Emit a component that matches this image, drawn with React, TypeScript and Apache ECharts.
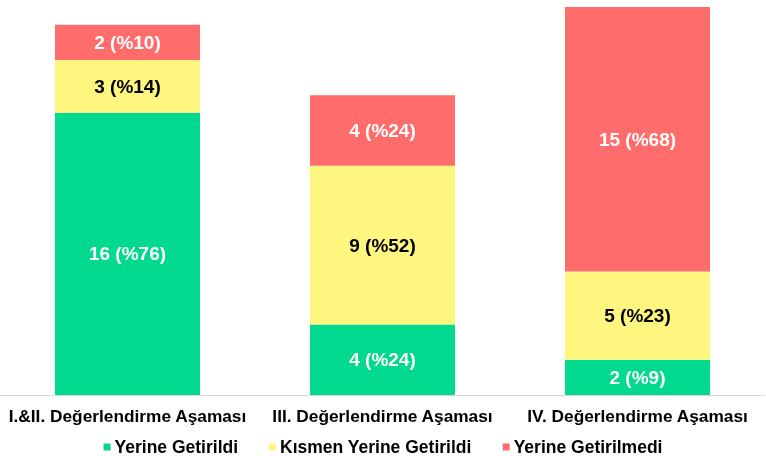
import React, { useEffect, useRef } from "react";
import * as echarts from "echarts";

const categories = ["I.&II. Değerlendirme Aşaması", "III. Değerlendirme Aşaması", "IV. Değerlendirme Aşaması"];
const seriesNames = ["Yerine Getirildi", "Kısmen Yerine Getirildi", "Yerine Getirilmedi"];
const fulfilled = [16, 4, 2];
const partial = [3, 9, 5];
const notFulfilled = [2, 4, 15];
const fulfilledPct = [76, 24, 9];
const partialPct = [14, 52, 23];
const notFulfilledPct = [10, 24, 68];
const colors = ["#00D98E", "#FFF680", "#FF6C6C"];
const labelColors = ["#FFFFFF", "#000000", "#FFFFFF"];

export default function App() {
  const ref = useRef<HTMLDivElement>(null);
  useEffect(() => {
    if (!ref.current) return;
    const chart = echarts.init(ref.current, null, { renderer: "svg" });
    const values = [fulfilled, partial, notFulfilled];
    const pcts = [fulfilledPct, partialPct, notFulfilledPct];
    chart.setOption({
      animation: false,
      textStyle: { fontFamily: "Liberation Sans, Arial, sans-serif" },
      grid: { left: 0, right: 1, top: 7, bottom: 61 },
      legend: {
        bottom: -5,
        left: "center",
        itemWidth: 7,
        itemHeight: 7,
        itemGap: 31,
        icon: "rect",
        textStyle: { fontSize: 17.5, fontWeight: "bold", color: "#000", padding: [0, 0, 0, -1] },
        data: seriesNames,
      },
      xAxis: {
        type: "category",
        data: categories,
        axisLine: { lineStyle: { color: "#D9D9D9", width: 1 } },
        axisTick: { show: false },
        axisLabel: { fontSize: 17.3, fontWeight: "bold", color: "#000", margin: 12, interval: 0 },
      },
      yAxis: { type: "value", min: 0, max: 22, show: false, splitLine: { show: false } },
      series: seriesNames.map((name, i) => ({
        name,
        type: "bar",
        stack: "total",
        barWidth: 145,
        data: values[i],
        itemStyle: { color: colors[i] },
        label: {
          show: true,
          position: "inside",
          fontSize: 19,
          fontWeight: "bold",
          color: labelColors[i],
          formatter: (p: any) => `${p.value} (%${pcts[i][p.dataIndex]})`,
        },
      })),
    });
    return () => chart.dispose();
  }, []);
  return <div ref={ref} style={{ position: "fixed", left: 0, top: 0, width: 766, height: 456 }} />;
}
